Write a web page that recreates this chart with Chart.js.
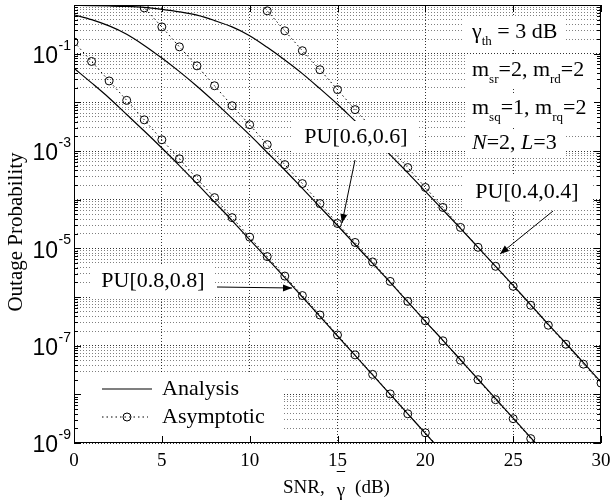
<!DOCTYPE html>
<html>
<head>
<meta charset="utf-8">
<script src="https://cdn.jsdelivr.net/npm/chart.js@4.4.1/dist/chart.umd.min.js"></script>
<style>
html,body{margin:0;padding:0;background:#fff;}
#wrap{width:610px;height:502px;position:relative;}
</style>
</head>
<body>
<div id="wrap"><canvas id="c" width="610" height="502"></canvas></div>
<script>
// ---------------- data ----------------
const snr = [0,1,2,3,4,5,6,7,8,9,10,11,12,13,14,15,16,17,18,19,20,21,22,23,24,25,26,27,28,29,30];

const analysis08 = [5.01e-2,2.51e-2,1.23e-2,5.62e-3,2.57e-3,1.15e-3,5.01e-4,2.14e-4,8.91e-5,3.72e-5,1.51e-5,6.17e-6,2.51e-6,1.0e-6,3.98e-7,1.58e-7,6.31e-8,2.51e-8,1.0e-8,3.98e-9,1.58e-9,6.31e-10,null,null,null,null,null,null,null,null,null];
const asym08 = [1.74e-1,6.92e-2,2.75e-2,1.10e-2,4.37e-3,1.70e-3,6.92e-4,2.69e-4,1.10e-4,4.27e-5,1.70e-5,6.76e-6,2.69e-6,1.07e-6,4.27e-7,1.66e-7,6.46e-8,2.57e-8,1.02e-8,3.98e-9,1.62e-9,6.46e-10,null,null,null,null,null,null,null,null,null];

const analysis06 = [6.31e-1,5.01e-1,3.72e-1,2.51e-1,1.48e-1,8.13e-2,4.27e-2,2.14e-2,1.02e-2,4.68e-3,2.14e-3,9.33e-4,4.07e-4,1.70e-4,7.08e-5,2.95e-5,1.20e-5,4.90e-6,2.00e-6,7.94e-7,3.16e-7,1.29e-7,5.13e-8,2.04e-8,8.13e-9,3.24e-9,1.29e-9,5.13e-10,null,null,null];
const asym06 = [null,null,null,2.19,8.71e-1,3.55e-1,1.38e-1,5.62e-2,2.19e-2,8.51e-3,3.47e-3,1.35e-3,5.25e-4,2.14e-4,8.32e-5,3.24e-5,1.32e-5,5.25e-6,2.09e-6,8.13e-7,3.24e-7,1.26e-7,5.01e-8,2.00e-8,7.76e-9,3.16e-9,1.23e-9,4.90e-10,null,null,null];

const analysis04 = [9.8e-1,9.7e-1,9.55e-1,9.33e-1,8.91e-1,8.13e-1,7.24e-1,6.17e-1,4.79e-1,3.55e-1,2.34e-1,1.35e-1,7.41e-2,3.89e-2,1.91e-2,9.12e-3,4.17e-3,1.91e-3,8.32e-4,3.55e-4,1.48e-4,6.17e-5,2.57e-5,1.05e-5,4.27e-6,1.74e-6,6.92e-7,2.75e-7,1.12e-7,4.47e-8,1.78e-8];
const asym04 = [null,null,null,null,null,null,null,null,null,null,1.91,7.59e-1,2.95e-1,1.15e-1,4.68e-2,1.82e-2,7.08e-3,2.88e-3,1.15e-3,4.57e-4,1.78e-4,6.92e-5,2.69e-5,1.05e-5,4.27e-6,1.66e-6,6.76e-7,2.63e-7,1.07e-7,4.17e-8,1.70e-8];

const xTickValues = [0,5,10,15,20,25,30];
const yTickExponents = [-1,-3,-5,-7,-9];
const legendLabels = ['Analysis','Asymptotic'];
const puLabels = ['PU[0.8,0.8]','PU[0.6,0.6]','PU[0.4,0.4]'];

// ---------------- helpers ----------------
const SERIF = '"Liberation Serif", "DejaVu Serif", serif';
const SANS = '"Liberation Sans", Arial, sans-serif';
function pts(arr){ return snr.map((s,i)=>({x:s,y:arr[i]})); }

function solidSet(label,arr){
  return {label, data:pts(arr), borderColor:'#000', borderWidth:1.2, pointRadius:0,
          cubicInterpolationMode:'monotone', spanGaps:false, fill:false};
}
function asymSet(label,arr){
  return {label, data:pts(arr), borderColor:'#000', borderWidth:1, borderDash:[1.5,3],
          pointRadius:4, pointStyle:'circle', pointBorderColor:'#000', pointBackgroundColor:'rgba(0,0,0,0)',
          pointBorderWidth:1, spanGaps:false, fill:false, tension:0};
}

function arrow(ctx,x1,y1,x2,y2){
  ctx.beginPath(); ctx.moveTo(x1,y1); ctx.lineTo(x2,y2);
  ctx.strokeStyle='#000'; ctx.lineWidth=1; ctx.setLineDash([]); ctx.stroke();
  const ang=Math.atan2(y2-y1,x2-x1), L=9, W=3.5;
  ctx.beginPath();
  ctx.moveTo(x2,y2);
  ctx.lineTo(x2-L*Math.cos(ang)+W*Math.sin(ang), y2-L*Math.sin(ang)-W*Math.cos(ang));
  ctx.lineTo(x2-L*Math.cos(ang)-W*Math.sin(ang), y2-L*Math.sin(ang)+W*Math.cos(ang));
  ctx.closePath(); ctx.fillStyle='#000'; ctx.fill();
}

// text runs: [text, style] where style: 'n' normal, 's' subscript, 'i' italic
function runs(ctx,x,y,parts,size){
  let cx=x;
  for(const [t,st] of parts){
    if(st==='s'){ ctx.font=`${Math.round(size*0.6)}px ${SERIF}`; ctx.fillText(t,cx,y+size*0.45); }
    else if(st==='i'){ ctx.font=`italic ${size}px ${SERIF}`; ctx.fillText(t,cx,y); }
    else { ctx.font=`${size}px ${SERIF}`; ctx.fillText(t,cx,y); }
    cx+=ctx.measureText(t).width;
  }
  return cx;
}

const decorPlugin = {
  id:'decor',
  afterDatasetsDraw(chart){
    const {ctx, chartArea:a, scales:{x,y}} = chart;
    ctx.save();
    ctx.setLineDash([]);
    ctx.textBaseline='middle';
    ctx.fillStyle='#fff';

    // white backgrounds: legend, annotations, top-right notes
    ctx.fillRect(a.left+1, 373, 209, a.bottom-373);
    ctx.fillRect(92, 264, 121, 34);
    ctx.fillRect(293, 121, 125, 32);
    ctx.fillRect(463, 175, 130, 35);
    ctx.fillRect(464, 17, 100, 33);
    ctx.fillRect(466, 55, a.right-466, 34);
    ctx.fillRect(466, 94, a.right-466, 34);
    ctx.fillRect(466, 131, 100, 26);

    // legend
    ctx.strokeStyle='#000'; ctx.lineWidth=1.2;
    ctx.beginPath(); ctx.moveTo(102,389); ctx.lineTo(152,389); ctx.stroke();
    ctx.lineWidth=1; ctx.setLineDash([1.5,3]);
    ctx.beginPath(); ctx.moveTo(102,417); ctx.lineTo(148,417); ctx.stroke();
    ctx.setLineDash([]);
    ctx.beginPath(); ctx.arc(127,417,4,0,Math.PI*2); ctx.stroke();
    ctx.fillStyle='#000'; ctx.textAlign='left';
    ctx.font=`22px ${SERIF}`;
    ctx.fillText(legendLabels[0],162,389);
    ctx.fillText(legendLabels[1],162,417);

    // PU annotations
    ctx.textAlign='center';
    ctx.fillText(puLabels[0],153,281);
    ctx.fillText(puLabels[1],356,137);
    ctx.fillText(puLabels[2],527,192);
    arrow(ctx,217,287,292,288);
    arrow(ctx,355,160,342,223);
    arrow(ctx,553,211,500,254);

    // top-right notes
    ctx.textAlign='left';
    runs(ctx,472,32,[['\u03B3','n'],['th','s'],[' = 3 dB','n']],22);
    runs(ctx,472,70,[['m','n'],['sr','s'],['=2, m','n'],['rd','s'],['=2','n']],22);
    runs(ctx,472,108,[['m','n'],['sq','s'],['=1, m','n'],['rq','s'],['=2','n']],22);
    runs(ctx,472,143,[['N','i'],['=2, ','n'],['L','i'],['=3','n']],22);

    // axes box
    ctx.strokeStyle='#000'; ctx.lineWidth=1; ctx.setLineDash([]);
    ctx.strokeRect(a.left+0.5, a.top+0.5, a.right-a.left-1, a.bottom-a.top-1);
    // x ticks (inward, bottom and top)
    ctx.beginPath();
    for(const v of xTickValues){
      const px=Math.round(x.getPixelForValue(v))+0.5;
      ctx.moveTo(px,a.bottom); ctx.lineTo(px,a.bottom-7);
      ctx.moveTo(px,a.top); ctx.lineTo(px,a.top+7);
    }
    // y ticks major and minor (left and right)
    for(let e=-9;e<=0;e++){
      for(let m=1;m<=9;m++){
        const v=m*Math.pow(10,e);
        if(v>1.0000001) break;
        const py=Math.round(y.getPixelForValue(v))+0.5;
        const len = m===1?7:4;
        ctx.moveTo(a.left,py); ctx.lineTo(a.left+len,py);
        ctx.moveTo(a.right,py); ctx.lineTo(a.right-len,py);
      }
    }
    ctx.stroke();

    // y tick labels with superscripts
    ctx.fillStyle='#000';
    for(const e of yTickExponents){
      const py=y.getPixelForValue(Math.pow(10,e));
      ctx.textAlign='right'; ctx.font=`23px ${SANS}`;
      ctx.fillText('10',58,py+3);
      ctx.textAlign='left'; ctx.font=`14px ${SANS}`;
      ctx.fillText(String(e),58.5,py-8);
    }
    // x tick labels
    ctx.textAlign='center'; ctx.font=`19px ${SERIF}`;
    for(const v of xTickValues){
      ctx.fillText(String(v), x.getPixelForValue(v), 461);
    }
    // x title: SNR,  gamma-bar  (dB)
    ctx.textAlign='left'; ctx.font=`19px ${SERIF}`;
    let cx=283;
    ctx.fillText('SNR,',cx,488); cx+=ctx.measureText('SNR,').width+12;
    const gw=ctx.measureText('\u03B3').width;
    ctx.fillText('\u03B3',cx,491);
    ctx.beginPath(); ctx.moveTo(cx,471.5); ctx.lineTo(cx+gw,471.5); ctx.lineWidth=1; ctx.stroke();
    cx+=gw+10;
    ctx.fillText('(dB)',cx,488);
    // y title
    ctx.save();
    ctx.translate(16,232); ctx.rotate(-Math.PI/2);
    ctx.textAlign='center'; ctx.font=`21px ${SERIF}`;
    ctx.fillText('Outage Probability',0,0);
    ctx.restore();

    ctx.restore();
  }
};

const yGridTicks = [];
for(let e=-9;e<=0;e++){ for(let m=1;m<=9;m++){ const v=m*Math.pow(10,e); if(v<=1.0000001) yGridTicks.push(v); } }

new Chart(document.getElementById('c'),{
  type:'line',
  data:{datasets:[
    solidSet('Analysis PU[0.8,0.8]',analysis08),
    asymSet('Asymptotic PU[0.8,0.8]',asym08),
    solidSet('Analysis PU[0.6,0.6]',analysis06),
    asymSet('Asymptotic PU[0.6,0.6]',asym06),
    solidSet('Analysis PU[0.4,0.4]',analysis04),
    asymSet('Asymptotic PU[0.4,0.4]',asym04)
  ]},
  options:{
    responsive:false, animation:false, devicePixelRatio:1,
    layout:{padding:{left:74,right:9,top:4,bottom:59}},
    plugins:{legend:{display:false},tooltip:{enabled:false}},
    scales:{
      x:{type:'linear',min:0,max:30,
         ticks:{display:false,stepSize:5},
         grid:{drawTicks:false,lineWidth:1,
               color:(c)=>{const v=c.tick&&c.tick.value; return (v===0||v===30)?'rgba(0,0,0,0)':'rgba(0,0,0,0.8)';}},
         border:{display:false,dash:[1,2]}},
      y:{type:'logarithmic',min:1e-9,max:1,
         afterBuildTicks:(s)=>{s.ticks=yGridTicks.map(v=>({value:v}));},
         ticks:{display:false},
         grid:{drawTicks:false,lineWidth:1,
               color:(c)=>{const v=c.tick&&c.tick.value; if(!v) return 'rgba(0,0,0,0)';
                 const m=v/Math.pow(10,Math.floor(Math.log10(v)+1e-9));
                 return Math.abs(m-1)<1e-6?'rgba(0,0,0,0.8)':'rgba(0,0,0,0.5)';}},
         border:{display:false,dash:[1,2]}}
    }
  },
  plugins:[decorPlugin]
});
</script>
</body>
</html>
